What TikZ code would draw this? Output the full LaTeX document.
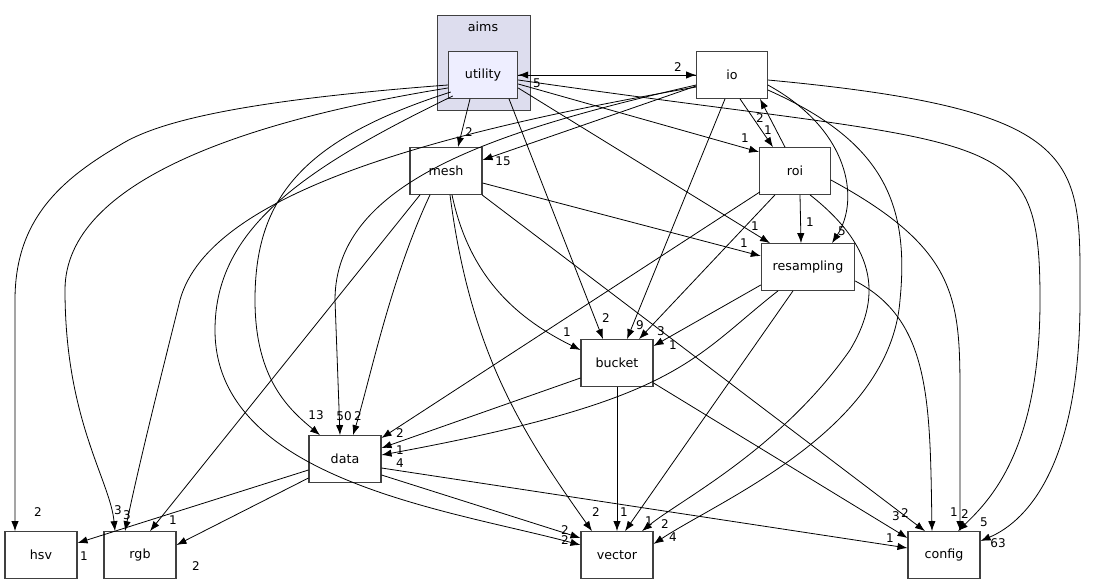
\documentclass[tikz,border=0pt]{standalone}
\usepackage{fontspec}
\setmainfont{DejaVu Sans}
\usetikzlibrary{arrows.meta,calc}
\begin{document}
\begin{tikzpicture}[x=0.75pt,y=-0.75pt,
  n/.style={draw=black!75,line width=0.8pt,fill=white,minimum width=54pt,minimum height=35pt,inner sep=0pt,font=\fontsize{9.5}{11}\selectfont},
  e/.style={-{Latex[length=7.5pt,width=5.5pt]},line width=0.6pt},
  l/.style={font=\fontsize{9}{10}\selectfont,inner sep=0pt}]
\useasboundingbox (0,0) rectangle (1102,585);
\node[draw=black!75,fill={rgb,255:red,221;green,221;blue,238},minimum width=70pt,minimum height=71pt,inner sep=0pt] (aims) at (483.5,62.5) {};
\node[l,font=\fontsize{9.5}{11}\selectfont] (aimst) at (483,27) {aims};
\node[n,fill={rgb,255:red,238;green,238;blue,255},minimum width=52pt] (utility) at (483,75) {utility};
\node[n,minimum width=53pt] (io) at (732,75) {io};
\node[n] (mesh) at (446,171) {mesh};
\node[n,minimum width=53pt] (roi) at (795,171) {roi};
\node[n,minimum width=70pt] (resampling) at (808,267) {resampling};
\node[n] (bucket) at (617,363) {bucket};
\node[n] (data) at (345,459) {data};
\node[n] (hsv) at (41,555) {hsv};
\node[n] (rgb) at (140,555) {rgb};
\node[n] (vector) at (617,555) {vector};
\node[n] (config) at (944,555) {config};
% utility edges
\draw[e] (utility.east) -- (io.west);
\draw[e] (io.west) -- (utility.east);
\draw[e] ($(utility.south)+(-13,0)$) -- ($(mesh.north)+(12,0)$);
\draw[e] ($(utility.south)+(26,0)$) -- ($(bucket.north)+(-14,0)$);
\draw[e] ($(utility.east)+(0,13)$) -- ($(resampling.north)+(-38,0)$);
\draw[e] ($(utility.east)+(0,9)$) -- ($(roi.west)+(0,-19)$);
\draw[e] ($(utility.east)+(0,5)$) .. controls (1000,150) and (1040,120) .. (1040,300) .. controls (1040,450) and (990,500) .. ($(config.north)+(14,0)$);
\draw[e] ($(utility.west)+(0,10)$) .. controls (250,100) and (160,120) .. (120,145) .. controls (60,180) and (15,220) .. (15,300) -- ($(hsv.north)+(-26,0)$);
\draw[e] ($(utility.west)+(0,13)$) .. controls (250,120) and (65,180) .. (65,290) .. controls (65,420) and (110,480) .. ($(rgb.north)+(-25,0)$);
\draw[e] ($(utility.west)+(3,17)$) .. controls (300,140) and (255,200) .. (255,300) .. controls (255,380) and (290,410) .. ($(data.north)+(-25,0)$);
\draw[e] ($(utility.west)+(5,21)$) .. controls (300,170) and (215,230) .. (215,330) .. controls (215,480) and (450,510) .. ($(vector.west)+(0,-10)$);
% io edges
\draw[e] ($(io.west)+(0,11)$) -- ($(mesh.east)+(0,-11)$);
\draw[e] ($(io.south)+(8,0)$) -- ($(roi.north)+(-22,0)$);
\draw[e] ($(roi.north)+(-10,0)$) -- ($(io.south)+(28,0)$);
\draw[e] ($(io.east)+(0,10)$) .. controls (850,130) and (860,200) .. ($(resampling.north)+(24,0)$);
\draw[e] ($(io.south)+(-7,0)$) -- ($(bucket.north)+(10,0)$);
\draw[e] ($(io.west)+(0,10)$) .. controls (500,130) and (335,180) .. (335,300) -- ($(data.north)+(-5,0)$);
\draw[e] ($(io.west)+(0,12)$) .. controls (450,130) and (210,190) .. (180,300) .. controls (160,380) and (140,460) .. ($(rgb.north)+(-15,0)$);
\draw[e] ($(io.east)+(0,15)$) .. controls (880,140) and (910,200) .. (900,300) .. controls (890,430) and (720,500) .. ($(vector.east)+(0,-11)$);
\draw[e] ($(io.east)+(0,5)$) .. controls (1090,110) and (1080,160) .. (1080,300) .. controls (1080,460) and (1030,520) .. ($(config.east)+(0,-14)$);
% roi edges
\draw[e] ($(roi.south)+(5,0)$) -- ($(resampling.north)+(-7,0)$);
\draw[e] ($(roi.south)+(-20,0)$) -- ($(bucket.north)+(22,0)$);
\draw[e] ($(roi.south)+(-35,-3)$) -- ($(data.east)+(0,-21)$);
\draw[e] ($(roi.south)+(15,0)$) .. controls (880,250) and (880,300) .. (850,350) .. controls (780,450) and (680,500) .. ($(vector.north)+(25,0)$);
\draw[e] ($(roi.east)+(0,9)$) .. controls (960,250) and (960,300) .. (960,400) -- ($(config.north)+(16,0)$);
% mesh edges
\draw[e] ($(mesh.east)+(0,12)$) -- ($(resampling.west)+(0,-11)$);
\draw[e] ($(mesh.south)+(6,0)$) .. controls (470,280) and (520,320) .. ($(bucket.west)+(0,-13)$);
\draw[e] ($(mesh.south)+(-16,0)$) .. controls (390,280) and (370,380) .. ($(data.north)+(8,0)$);
\draw[e] ($(mesh.south)+(-26,0)$) -- ($(rgb.north)+(10,0)$);
\draw[e] ($(mesh.south)+(4,0)$) .. controls (470,350) and (520,430) .. ($(vector.north)+(-25,0)$);
\draw[e] ($(mesh.south)+(36,0)$) -- ($(config.north)+(-19,0)$);
% resampling edges
\draw[e] ($(resampling.west)+(0,18)$) -- ($(bucket.east)+(0,-17)$);
\draw[e] ($(resampling.south)+(-30,0)$) .. controls (690,360) and (680,400) .. ($(data.east)+(0,-4)$);
\draw[e] ($(resampling.south)+(-15,0)$) -- ($(vector.north)+(8,0)$);
\draw[e] ($(resampling.east)+(0,14)$) .. controls (930,320) and (930,400) .. ($(config.north)+(-12,0)$);
% bucket edges
\draw[e] ($(bucket.west)+(0,15)$) -- ($(data.east)+(0,-11)$);
\draw[e] (bucket.south) -- (vector.north);
\draw[e] ($(bucket.east)+(0,20)$) -- ($(config.west)+(0,-17)$);
% data edges
\draw[e] ($(data.west)+(0,11)$) -- ($(hsv.east)+(0,-12)$);
\draw[e] ($(data.west)+(0,19)$) -- ($(rgb.east)+(0,-10)$);
\draw[e] ($(data.east)+(0,16)$) -- ($(vector.west)+(0,-17)$);
\draw[e] ($(data.east)+(0,9)$) -- ($(config.west)+(0,-7)$);
% labels
\node[l] (l1) at (678,67) {2};
\node[l] (l2) at (537,83) {5};
\node[l] (l3) at (469,132) {2};
\node[l] (l4) at (606,318) {2};
\node[l] (l5) at (755,226) {1};
\node[l] (l6) at (745,138) {1};
\node[l] (l7) at (984,522) {5};
\node[l] (l8) at (38,512) {2};
\node[l] (l9) at (118,510) {3};
\node[l] (l10) at (316,415) {13};
\node[l] (l11) at (565,540) {2};
\node[l] (l12) at (503,161) {15};
\node[l] (l13) at (768,130) {1};
\node[l] (l14) at (760,118) {2};
\node[l] (l15) at (842,231) {5};
\node[l] (l16) at (640,325) {9};
\node[l] (l17) at (344,416) {50};
\node[l] (l18) at (127,515) {3};
\node[l] (l19) at (673,537) {4};
\node[l] (l20) at (998,543) {63};
\node[l] (l21) at (810,222) {1};
\node[l] (l22) at (661,331) {3};
\node[l] (l23) at (400,433) {2};
\node[l] (l24) at (665,524) {2};
\node[l] (l25) at (965,514) {2};
\node[l] (l26) at (744,243) {1};
\node[l] (l27) at (567,332) {1};
\node[l] (l28) at (358,416) {2};
\node[l] (l29) at (173,520) {1};
\node[l] (l30) at (596,512) {2};
\node[l] (l31) at (905,513) {2};
\node[l] (l32) at (673,345) {1};
\node[l] (l33) at (400,463) {4};
\node[l] (l34) at (649,521) {1};
\node[l] (l35) at (954,512) {1};
\node[l] (l36) at (400,450) {1};
\node[l] (l37) at (624,512) {1};
\node[l] (l38) at (896,516) {3};
\node[l] (l39) at (84,556) {1};
\node[l] (l40) at (196,566) {2};
\node[l] (l41) at (565,530) {2};
\node[l] (l42) at (890,538) {1};
\end{tikzpicture}
\end{document}
